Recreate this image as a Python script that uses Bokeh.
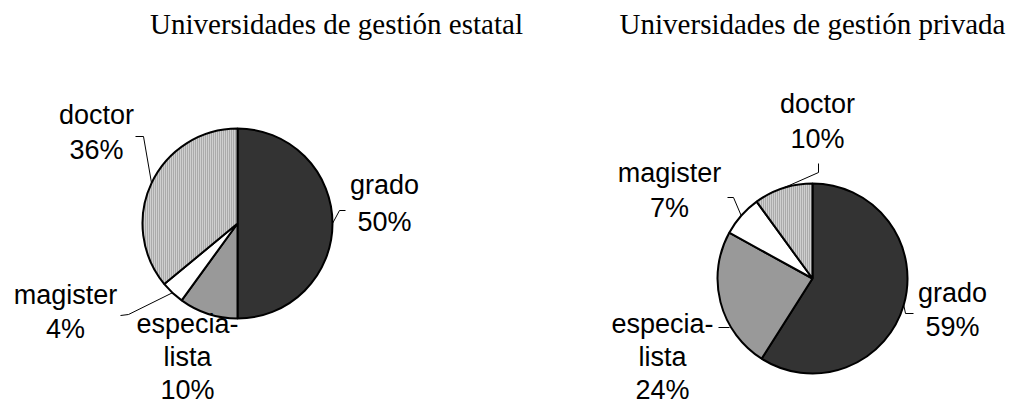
import math
from bokeh.plotting import figure
from bokeh.models import Range1d, ColumnDataSource
from bokeh.core.properties import value
from bokeh.embed import file_html
from bokeh.resources import INLINE

# ---- data ----
categories = ["grado", "especialista", "magister", "doctor"]
category_labels = [["grado"], ["especia-", "lista"], ["magister"], ["doctor"]]
estatal_values = [50, 10, 4, 36]
privada_values = [59, 24, 7, 10]
titles = ["Universidades de gestión estatal", "Universidades de gestión privada"]

# ---- styles / layout ----
slice_colors = ["#333333", "#999999", "#ffffff", "#cfcfcf"]
slice_hatch = [" ", " ", " ", "|"]
W, H = 1012, 408
LABEL_PX = 27
TITLE_PX = 29
# the svg text renderer draws the alphabetic baseline ~0.4em lower than asked
LABEL_FIX = 0.4 * LABEL_PX
TITLE_FIX = 0.4 * TITLE_PX


def X(px):
    return px


def Y(py):
    return H - py


# per pie: centre (page px), radius, title centre x, label anchors (centre x, first baseline, line gap)
pies = [
    dict(values=estatal_values, title=titles[0], cx=237, cy=223, r=95, tx=336,
         labels=[(384, 195, 37), (187, 334, 33), (65, 305, 34), (96, 125, 35)],
         leaders=[[(345, 210), (339, 210)], None, [(120, 315), (128, 314)], [(135, 136), (143, 136)]]),
    dict(values=privada_values, title=titles[1], cx=812, cy=278, r=95, tx=812,
         labels=[(952, 303, 34), (662, 334, 33), (669, 183, 35), (817, 114, 35)],
         leaders=[[(913, 313), (905, 313)], [(718, 327), (729, 327)], [(727, 197), (733, 197)], [(818, 163), (818, 172)]]),
]

p = figure(width=W, height=H, output_backend="svg", toolbar_location=None,
           x_range=Range1d(0, W), y_range=Range1d(0, H), min_border=0)
p.axis.visible = False
p.grid.visible = False
p.outline_line_color = None
p.background_fill_color = "white"

label_font = value("Liberation Sans")
title_font = value("Liberation Serif")

for pie in pies:
    vals = pie["values"]
    total = float(sum(vals))
    cum = 0.0
    starts, ends, mids = [], [], []
    for v in vals:
        a = cum / total
        b = (cum + v) / total
        starts.append(math.pi / 2 - 2 * math.pi * a)
        ends.append(math.pi / 2 - 2 * math.pi * b)
        mids.append(math.pi / 2 - 2 * math.pi * (a + b) / 2)
        cum += v
    n = len(vals)
    src = ColumnDataSource(dict(
        x=[X(pie["cx"])] * n, y=[Y(pie["cy"])] * n,
        start=starts, end=ends, color=slice_colors, hatch=slice_hatch,
    ))
    p.wedge(x="x", y="y", radius=pie["r"], start_angle="start", end_angle="end",
            direction="clock", fill_color="color", hatch_pattern="hatch",
            hatch_color="#858585", hatch_scale=2, hatch_weight=1,
            line_color="black", line_width=2, source=src)

    # leader lines: elbow points + computed edge point at the slice mid angle
    xs, ys = [], []
    for i, leader in enumerate(pie["leaders"]):
        if leader is None:
            continue
        pts = [(X(px), Y(py)) for px, py in leader]
        if i != 1:
            ex = X(pie["cx"]) + pie["r"] * math.cos(mids[i])
            ey = Y(pie["cy"]) + pie["r"] * math.sin(mids[i])
            pts.append((ex, ey))
        xs.append([q[0] for q in pts])
        ys.append([q[1] for q in pts])
    p.multi_line(xs=xs, ys=ys, line_color="black", line_width=1)

    # labels
    tx, ty, tt = [], [], []
    for i, (lx, ly, gap) in enumerate(pie["labels"]):
        lines = category_labels[i] + [f"{vals[i]}%"]
        for k, t in enumerate(lines):
            tx.append(X(lx))
            ty.append(Y(ly + k * gap - LABEL_FIX))
            tt.append(t)
    p.text(x=tx, y=ty, text=tt, text_font=label_font, text_font_size=f"{LABEL_PX}px",
           text_align="center", text_baseline="alphabetic", text_color="black")

    p.text(x=[X(pie["tx"])], y=[Y(35 - TITLE_FIX)], text=[pie["title"]], text_font=title_font,
           text_font_size=f"{TITLE_PX}px", text_align="center", text_baseline="alphabetic",
           text_color="black")

open("out.html", "w").write(file_html(p, INLINE))
